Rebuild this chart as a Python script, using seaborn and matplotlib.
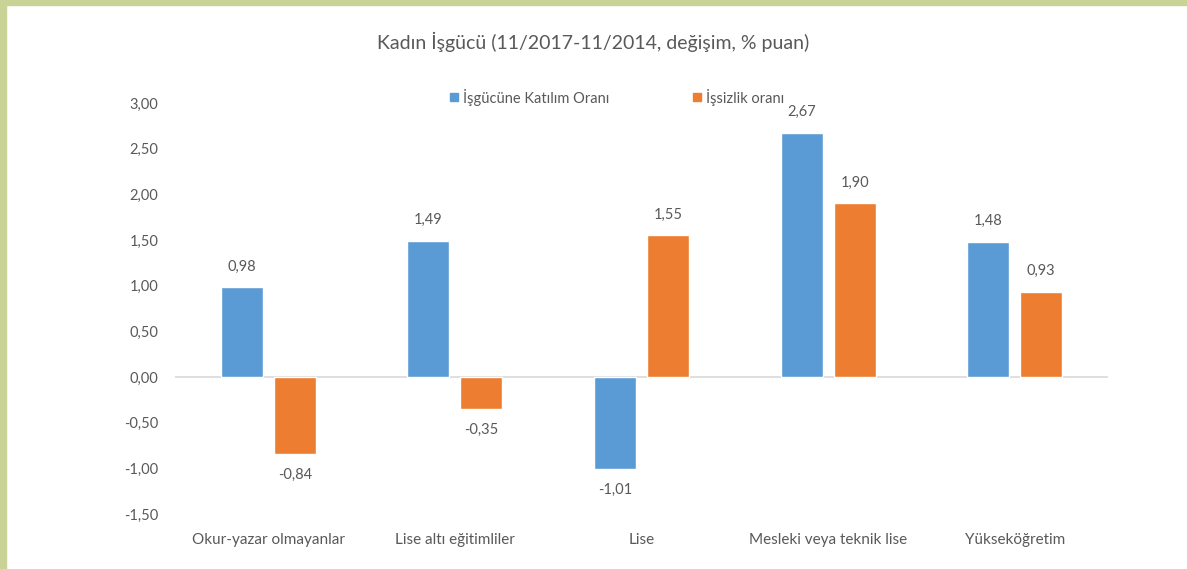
import pandas as pd
import seaborn as sns
import matplotlib.pyplot as plt
from matplotlib.patches import Rectangle
from matplotlib.lines import Line2D

categories = ["Okur-yazar olmayanlar", "Lise altı eğitimliler", "Lise",
              "Mesleki veya teknik lise", "Yükseköğretim"]
series_names = ["İşgücüne Katılım Oranı", "İşsizlik oranı"]
katilim = [0.98, 1.49, -1.01, 2.67, 1.48]
issizlik = [-0.84, -0.35, 1.55, 1.90, 0.93]
yticks = [-1.5, -1.0, -0.5, 0.0, 0.5, 1.0, 1.5, 2.0, 2.5, 3.0]

BLUE = "#5B9BD5"
ORANGE = "#ED7D31"
TXT = "#595959"


def tr_fmt(v):
    return f"{v:.2f}".replace(".", ",")


def plot_chart():
    df = pd.DataFrame({
        "kategori": categories * 2,
        "seri": [series_names[0]] * len(categories) + [series_names[1]] * len(categories),
        "deger": katilim + issizlik,
    })

    sns.set_theme(style="white")
    plt.rcParams["font.family"] = ["Lato", "DejaVu Sans"]

    fig = plt.figure(figsize=(11.87, 5.69), dpi=100)
    fig.patch.set_facecolor("white")
    # olive frame strips (top and left)
    fig.patches.append(Rectangle((0, 1 - 5 / 569), 1, 5 / 569, transform=fig.transFigure,
                                 color="#c9d396", zorder=0))
    fig.patches.append(Rectangle((0, 0), 6 / 1187, 1, transform=fig.transFigure,
                                 color="#c9d396", zorder=0))

    ax = fig.add_axes([175 / 1187, 1 - 514 / 569, (1108 - 175) / 1187, (514 - 103) / 569])
    sns.barplot(data=df, x="kategori", y="deger", hue="seri", order=categories,
                hue_order=series_names, palette=[BLUE, ORANGE], width=0.57, gap=0.21,
                saturation=1, errorbar=None, ax=ax)
    ax.get_legend().remove()

    for cont in ax.containers:
        vals = [b.get_height() for b in cont]
        ax.bar_label(cont, labels=[tr_fmt(v) for v in vals], padding=10,
                     fontsize=10.5, color=TXT)

    ax.axhline(0, color="#d9d9d9", lw=1.2, zorder=0)
    ax.set_ylim(-1.5, 3.0)
    ax.set_xlim(-0.5, len(categories) - 0.5)
    ax.set_yticks(yticks)
    ax.set_yticklabels([tr_fmt(v) for v in yticks])
    ax.set_xlabel("")
    ax.set_ylabel("")
    for s in ax.spines.values():
        s.set_visible(False)
    ax.tick_params(axis="y", length=0, pad=12, labelsize=10.5, labelcolor=TXT)
    ax.tick_params(axis="x", length=0, pad=14, labelsize=11, labelcolor=TXT)

    fig.text(0.5, 1 - 42 / 569, "Kadın İşgücü (11/2017-11/2014, değişim, % puan)",
             ha="center", va="center", fontsize=14, color=TXT)

    handles = [Line2D([], [], marker="s", ls="", color=c, markersize=6) for c in (BLUE, ORANGE)]
    fig.legend(handles, series_names, loc="center", bbox_to_anchor=(0.519, 1 - 97 / 569),
               ncol=2, frameon=False, fontsize=10.5, labelcolor=TXT, handletextpad=0.2,
               handlelength=0.8, columnspacing=5.6)

    fig.savefig("out.png", dpi=100, facecolor="white")


if __name__ == "__main__":
    plot_chart()
